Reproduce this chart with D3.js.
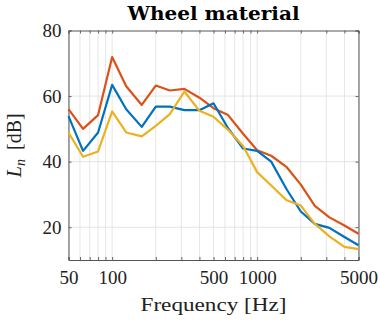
<!DOCTYPE html>
<html><head><meta charset="utf-8">
<script src="https://cdn.jsdelivr.net/npm/d3@7"></script>
<style>body{margin:0;background:#fff}svg{display:block}</style>
</head><body>
<svg id="c" width="380" height="322"></svg>
<script>
const frequencies = [50,63,80,100,125,160,200,250,315,400,500,630,800,1000,1250,1600,2000,2500,3150,4000,5000];
const seriesRed    = [56.0,50.0,54.2,71.9,63.0,57.3,63.2,61.7,62.2,59.5,56.3,54.2,48.5,43.5,41.8,38.3,33.0,26.5,23.0,20.5,18.0];
const seriesBlue   = [53.9,43.3,48.9,63.4,56.0,50.6,56.8,56.8,55.7,55.7,57.8,50.2,44.0,43.3,40.0,31.5,24.8,21.0,19.8,17.0,14.5];
const seriesYellow = [48.9,41.5,43.1,55.3,48.9,47.7,50.9,54.5,61.4,55.5,53.7,49.7,44.8,36.8,32.7,28.2,26.6,21.0,17.2,14.0,13.3];
const xTickValues = [50,100,500,1000,5000];
const yTickValues = [20,40,60,80];
const gridX = [50,60,70,80,90,100,200,300,400,500,600,700,800,900,1000,2000,3000,4000,5000];
const titleText = "Wheel material";
const xLabel = "Frequency [Hz]";

const L=68.5, R=358.5, T=30.5, B=260;
const svg = d3.select("#c");
const x = d3.scaleLog().domain([50,5000]).range([L,R]);
const y = d3.scaleLinear().domain([10,80]).range([B,T]);

// grid
svg.append("g").selectAll("line").data(gridX).join("line")
  .attr("x1",d=>x(d)).attr("x2",d=>x(d)).attr("y1",T).attr("y2",B)
  .attr("stroke","#e6e6e6").attr("stroke-width",1);
svg.append("g").selectAll("line").data([20,40,60]).join("line")
  .attr("x1",L).attr("x2",R).attr("y1",d=>y(d)).attr("y2",d=>y(d))
  .attr("stroke","#e3e3e3").attr("stroke-width",1);

// axes
const font = "'Liberation Serif', 'Times New Roman', serif";
const xAxis = svg.append("g").attr("transform",`translate(0,${B})`)
  .call(d3.axisBottom(x).tickValues(gridX).tickSize(-3).tickFormat(d=>xTickValues.includes(d)?d:"").tickPadding(11));
const yAxis = svg.append("g").attr("transform",`translate(${L},0)`)
  .call(d3.axisLeft(y).tickValues(yTickValues).tickSize(-3).tickFormat(d3.format("d")).tickPadding(7));
svg.append("g").attr("transform",`translate(0,${T})`)
  .call(d3.axisTop(x).tickValues(gridX).tickSize(-3).tickFormat(""));
svg.append("g").attr("transform",`translate(${R},0)`)
  .call(d3.axisRight(y).tickValues(yTickValues).tickSize(-3).tickFormat(""));
svg.selectAll("g").attr("font-family",font);
svg.selectAll(".domain").attr("stroke","#555").attr("stroke-width",1);
svg.selectAll(".tick line").attr("stroke","#666");
svg.selectAll(".tick text").attr("font-family",font).attr("font-size",19).attr("fill","#222");
yAxis.selectAll(".tick text").attr("dy","0.33em");
xAxis.selectAll(".tick text").attr("dy","0.7em");

// lines
const line = d3.line().x((d,i)=>x(frequencies[i])).y(d=>y(d));
[[seriesRed,"#D95319"],[seriesBlue,"#0072BD"],[seriesYellow,"#EDB120"]].forEach(([s,c])=>{
  svg.append("path").datum(s).attr("d",line).attr("fill","none")
    .attr("stroke",c).attr("stroke-width",2.2).attr("stroke-linejoin","round");
});

// title
svg.append("text").attr("x",(L+R)/2).attr("y",20).attr("text-anchor","middle")
  .attr("font-family","'DejaVu Serif', serif").attr("font-weight","bold").attr("font-size",18.5)
  .attr("textLength",172).attr("lengthAdjust","spacingAndGlyphs").attr("fill","#000").text(titleText);
// x label
svg.append("text").attr("x",(L+R)/2).attr("y",311).attr("text-anchor","middle")
  .attr("font-family",font).attr("font-size",19).attr("fill","#222")
  .attr("textLength",146).attr("lengthAdjust","spacingAndGlyphs").text(xLabel);
// y label
const yl = svg.append("text").attr("transform",`translate(21,${(T+B)/2}) rotate(-90)`)
  .attr("text-anchor","middle").attr("font-family",font).attr("font-size",20).attr("fill","#222");
yl.append("tspan").attr("font-style","italic").text("L");
yl.append("tspan").attr("font-style","italic").attr("font-size",14).attr("dy",4).text("n");
yl.append("tspan").attr("dy",-4).text("\u2009 [dB]");
</script>
</body></html>
